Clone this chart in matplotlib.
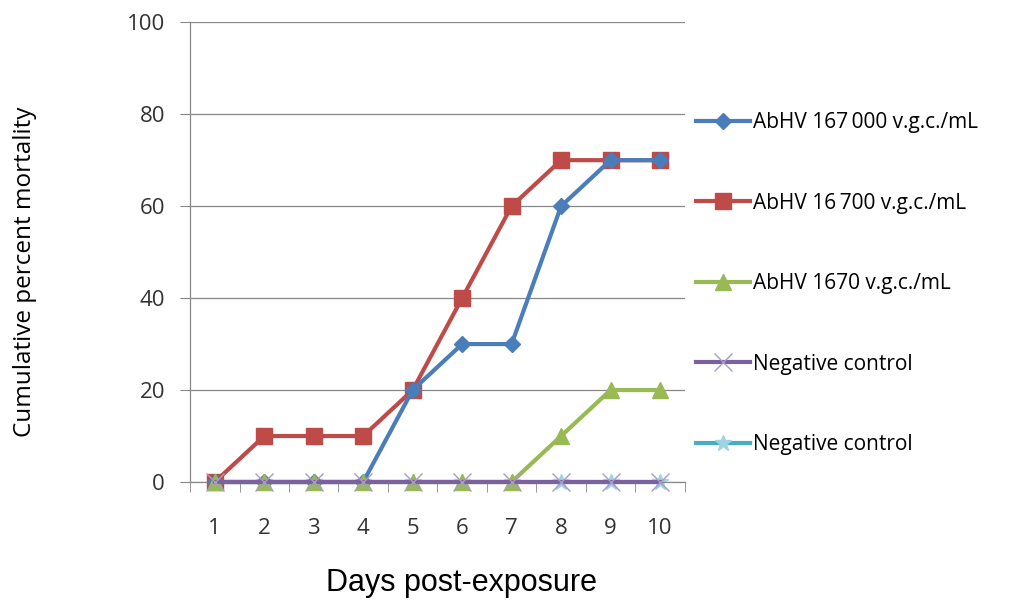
import numpy as np
import matplotlib
matplotlib.use('Agg')
from matplotlib import pyplot as plt

days = [1, 2, 3, 4, 5, 6, 7, 8, 9, 10]
abhv_167000 = [0, 0, 0, 0, 20, 30, 30, 60, 70, 70]
abhv_16700 = [0, 10, 10, 10, 20, 40, 60, 70, 70, 70]
abhv_1670 = [0, 0, 0, 0, 0, 0, 0, 10, 20, 20]
neg_control_a = [0, 0, 0, 0, 0, 0, 0, 0, 0, 0]
neg_control_b = [0, 0, 0, 0, 0, 0, 0, 0, 0, 0]

labels = ['AbHV 167\u2009000 v.g.c./mL', 'AbHV 16\u2009700 v.g.c./mL', 'AbHV 1670 v.g.c./mL',
          'Negative control', 'Negative control']
colors = ['#4A7EBB', '#BE4B48', '#98B954', '#7D60A0', '#4BACC6']

plt.rcParams['font.family'] = ['Open Sans', 'DejaVu Sans']

fig = plt.figure(figsize=(10.19, 6.01), dpi=100)
ax = fig.add_axes([0.1865, 0.198, 0.4855, 0.765])

ax.plot(days, neg_control_b, color=colors[4], lw=3, marker='*', ms=12,
        mfc='#9DD3E3', mec='#9DD3E3', label=labels[4], zorder=1, clip_on=False)
ax.plot(days, abhv_167000, color=colors[0], lw=3, marker='D', ms=8, label=labels[0],
        zorder=3, clip_on=False)
ax.plot(days, abhv_16700, color=colors[1], lw=3, marker='s', ms=12, label=labels[1],
        zorder=2, clip_on=False)
ax.plot(days, abhv_1670, color=colors[2], lw=3, marker='^', ms=12, label=labels[2],
        zorder=4, clip_on=False)
ax.plot(days, neg_control_a, color=colors[3], lw=3, marker='x', ms=13, mew=1.0,
        mec='#A99BC7', label=labels[3], zorder=5, clip_on=False)

ax.set_xlim(0.5, 10.5)
ax.set_ylim(0, 100)
ax.set_yticks(np.arange(0, 101, 20))
ax.set_xticks(days)
ax.set_xticklabels([str(d) for d in days])
ax.set_xticks(np.arange(0.5, 11, 1), minor=True)
ax.tick_params(axis='x', which='major', length=0, pad=26, labelsize=16, labelcolor='#333333')
ax.tick_params(axis='x', which='minor', length=7, color='#888888', direction='out')
ax.tick_params(axis='y', length=7, color='#888888', labelsize=16, labelcolor='#333333', pad=11)
ax.grid(axis='y', color='#888888', lw=0.9)
ax.set_axisbelow(True)
for s in ['top', 'right']:
    ax.spines[s].set_visible(False)
for s in ['left', 'bottom']:
    ax.spines[s].set_color('#888888')
    ax.spines[s].set_linewidth(0.9)

fig.text(25 / 1019, 1 - 272 / 601, 'Cumulative percent mortality', fontsize=17.5,
         rotation=90, ha='center', va='center')
fig.text(462 / 1019, 1 - 583 / 601, 'Days post-exposure', fontsize=22,
         family=['Liberation Sans', 'DejaVu Sans'], ha='center', va='center')

h, l = ax.get_legend_handles_labels()
order = [1, 2, 3, 4, 0]
ax.legend([h[i] for i in order], [l[i] for i in order], loc='upper left',
          bbox_to_anchor=(1.005, 0.822), frameon=False, fontsize=15,
          labelspacing=2.85, handlelength=2.6, handletextpad=0.15, borderaxespad=0)

plt.savefig('out.png', dpi=100)
